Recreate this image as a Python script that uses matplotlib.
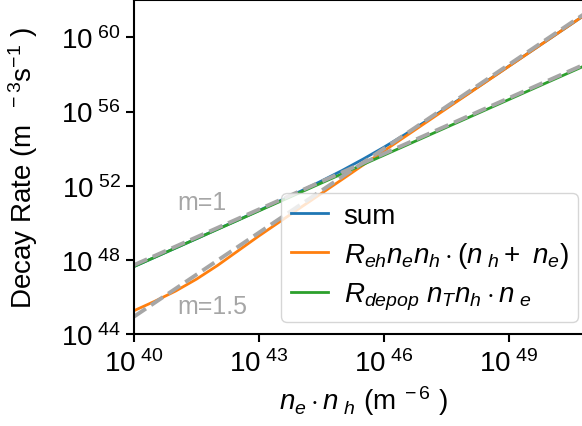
import numpy as np
import matplotlib
matplotlib.use('Agg')
import matplotlib.pyplot as plt
from matplotlib.ticker import FixedLocator, FuncFormatter, NullLocator

plt.rcParams['font.family'] = ['Liberation Sans', 'DejaVu Sans']
plt.rcParams['mathtext.fontset'] = 'custom'
plt.rcParams['mathtext.rm'] = 'Liberation Sans'
plt.rcParams['mathtext.it'] = 'Liberation Sans:italic'
plt.rcParams['mathtext.bf'] = 'Liberation Sans:bold'

# exponents: log10(n_e*n_h) and log10(rate)
log_x = [40, 40.5, 41, 41.5, 42, 42.5, 43, 44, 44.5, 45, 45.5, 46, 46.5, 47, 48, 49, 50, 51]
log_eh = [45.27, 45.78, 46.33, 46.97, 47.70, 48.50, 49.30, 50.83, 51.59, 52.35, 53.12,
          53.88, 54.64, 55.40, 56.92, 58.44, 59.96, 61.48]
log_depop = [47.65, 48.15, 48.65, 49.15, 49.65, 50.15, 50.65, 51.65, 52.15, 52.65, 53.15,
             53.65, 54.15, 54.65, 55.65, 56.65, 57.65, 58.65]
log_sum = [47.65, 48.15, 48.65, 49.15, 49.66, 50.16, 50.67, 51.71, 52.26, 52.83, 53.44,
           54.08, 54.76, 55.47, 56.94, 58.45, 59.96, 61.48]

# power-law guide lines (endpoints)
log_fit_x = [40, 51]
log_fit_m1 = [47.73, 58.73]
log_fit_m15 = [44.95, 61.55]

x = 10.0 ** np.array(log_x)

fig = plt.figure(figsize=(5.82, 4.27), dpi=100)
ax = fig.add_axes([0.2302, 0.2148, 0.7875, 0.7824])

ax.plot(x, 10.0 ** np.array(log_sum), color='#1f77b4', lw=2, label='sum')
ax.plot(x, 10.0 ** np.array(log_eh), color='#ff7f0e', lw=2,
        label=r'$R_{eh}n_en_h\cdot(n_{\ h}+\ n_e)$')
ax.plot(x, 10.0 ** np.array(log_depop), color='#2ca02c', lw=2,
        label=r'$R_{depop}\ n_Tn_h\cdot n_{\ e}$')

fx = 10.0 ** np.array(log_fit_x)
ax.plot(fx, 10.0 ** np.array(log_fit_m1), '--', color='#a6a6a6', lw=2.8)
ax.plot(fx, 10.0 ** np.array(log_fit_m15), '--', color='#a6a6a6', lw=2.8)

ax.text(10 ** 41.03, 10 ** 51.14, 'm=1', color='#a6a6a6', fontsize=18, va='center')
ax.text(10 ** 41.03, 10 ** 45.5, 'm=1.5', color='#a6a6a6', fontsize=18, va='center')

ax.set_xscale('log')
ax.set_yscale('log')
ax.set_xlim(1e40, 1e51)
ax.set_ylim(1e44, 1e62)

ax.xaxis.set_major_locator(FixedLocator([1e40, 1e43, 1e46, 1e49]))
ax.yaxis.set_major_locator(FixedLocator([1e44, 1e48, 1e52, 1e56, 1e60]))
ax.xaxis.set_minor_locator(NullLocator())
ax.yaxis.set_minor_locator(NullLocator())
fmt = FuncFormatter(lambda v, p: r'$10^{\ %d}$' % round(np.log10(v)))
ax.xaxis.set_major_formatter(fmt)
ax.yaxis.set_major_formatter(fmt)
ax.tick_params(labelsize=20, width=1.5, length=6)
ax.tick_params(axis='x', pad=5)
for s in ax.spines.values():
    s.set_linewidth(1.5)

ax.set_xlabel(r'$n_e\cdot n_{\ h}$ (m$^{\ -6}$ )', fontsize=20)
ax.set_ylabel(r'Decay Rate (m $^{\ -3}$s$^{-1}$ )', fontsize=20)
ax.yaxis.set_label_coords(-0.205, 0.5)

ax.legend(loc='lower right', bbox_to_anchor=(578 / 582, (427 - 323) / 427),
          bbox_transform=fig.transFigure, borderaxespad=0, fontsize=20,
          handlelength=1.35, handletextpad=0.55, labelspacing=0.4, borderpad=0.35)

fig.savefig('out.png', dpi=100)
